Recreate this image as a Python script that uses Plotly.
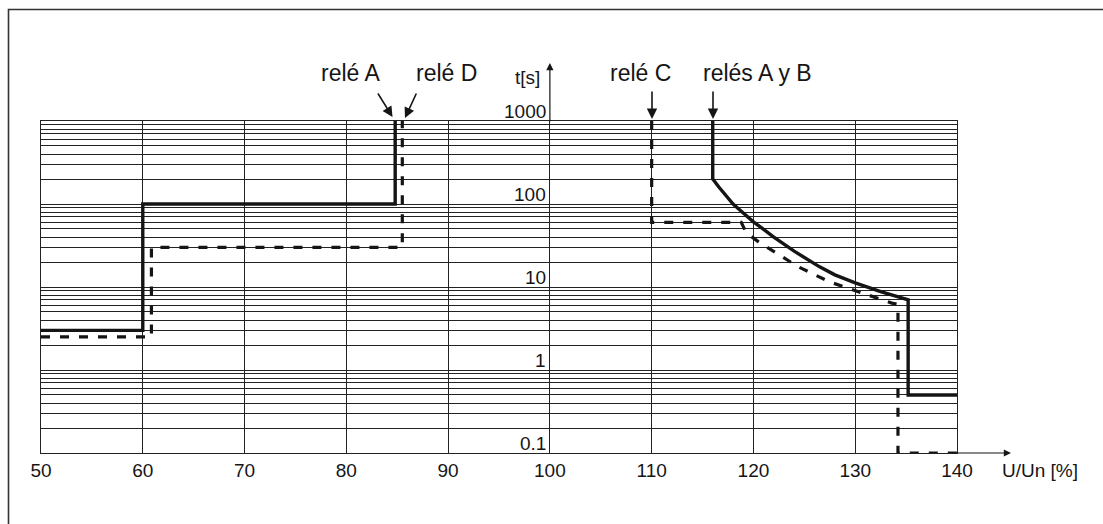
import math
import plotly.graph_objects as go

# ---------------- data ----------------
x_ticks = [50, 60, 70, 80, 90, 100, 110, 120, 130, 140]
y_tick_values = [1000, 100, 10, 1, 0.1]
y_tick_labels = ["1000", "100", "10", "1", "0.1"]

# undervoltage, relay A (solid)
under_A_u = [50, 60, 60, 84.8, 84.8]
under_A_t = [3, 3, 100, 100, 1000]
# undervoltage, relay D (dashed)
under_D_u = [50, 60.85, 60.85, 85.5, 85.5]
under_D_t = [2.5, 2.5, 30, 30, 1000]
# overvoltage, relays A and B (solid)
over_AB_u = [116, 116, 116.6, 117.3, 118, 119, 120, 122, 124, 126.5, 128, 130, 132.5, 135.2, 135.2, 140]
over_AB_t = [1000, 200, 160, 125, 100, 78, 61, 40, 27, 17.5, 14, 11.2, 8.8, 7, 0.5, 0.5]
# overvoltage, relay C (dashed)
over_C_u = [110, 110, 118.8, 119.3, 120.5, 122.8, 124.4, 127.5, 129.8, 131.8, 133.6, 134.2, 134.2, 140]
over_C_t = [1000, 60, 60, 45, 35, 23.5, 17.5, 11.5, 9.2, 7.6, 6.4, 6.2, 0.1, 0.1]

labels_top = ["relé A", "relé D", "relé C", "relés A y B"]

# ---------------- layout geometry ----------------
W, H = 1103, 524
ML, MR, MT, MB = 41, 146, 121, 71
PW, PH = W - ML - MR, H - MT - MB


def px(xp):
    return (xp - ML) / PW


def py(yp):
    return (H - MB - yp) / PH


FONT = "Liberation Sans, Arial, Helvetica, sans-serif"
INK = "#151515"
GRID = "#222222"

fig = go.Figure()

solid = dict(color=INK, width=3.4)
dashed = dict(color=INK, width=3.2, dash="9px,10px")

fig.add_trace(go.Scatter(x=under_A_u, y=under_A_t, mode="lines", line=solid,
                         name="relé A", cliponaxis=False, hoverinfo="skip"))
fig.add_trace(go.Scatter(x=under_D_u, y=under_D_t, mode="lines", line=dashed,
                         name="relé D", cliponaxis=False, hoverinfo="skip"))
fig.add_trace(go.Scatter(x=over_AB_u, y=over_AB_t, mode="lines", line=solid,
                         name="relés A y B", cliponaxis=False, hoverinfo="skip"))
fig.add_trace(go.Scatter(x=over_C_u, y=over_C_t, mode="lines", line=dashed,
                         name="relé C", cliponaxis=False, hoverinfo="skip"))

grid_vals = [m * 10 ** e for e in range(-1, 3) for m in range(1, 10)] + [1000]

annotations = []
# y tick labels, placed just left of the U=100 axis, above each decade line
for v, lab in zip(y_tick_values, y_tick_labels):
    annotations.append(dict(x=100, y=math.log10(v), xref="x", yref="y", text=lab,
                            showarrow=False, xanchor="right", yanchor="middle",
                            xshift=-2, yshift=10,
                            font=dict(family=FONT, size=19, color=INK)))

# axis arrows
annotations.append(dict(x=px(1011), y=0, xref="paper", yref="paper", ax=-60, ay=0,
                        text="", showarrow=True, arrowhead=2, arrowsize=1.2,
                        arrowwidth=1.2, arrowcolor=INK, standoff=0))
annotations.append(dict(x=100, y=py(63), xref="x", yref="paper", ax=0, ay=60,
                        text="", showarrow=True, arrowhead=2, arrowsize=1.2,
                        arrowwidth=1.2, arrowcolor=INK, standoff=0))
annotations.append(dict(x=px(527), y=py(78), xref="paper", yref="paper", text="t[s]",
                        showarrow=False, xanchor="center", yanchor="middle",
                        font=dict(family=FONT, size=19, color=INK)))
annotations.append(dict(x=px(1040), y=py(470), xref="paper", yref="paper", text="U/Un [%]",
                        showarrow=False, xanchor="center", yanchor="middle",
                        font=dict(family=FONT, size=19, color=INK)))

# top labels with arrows
label_pos = [(350, 73), (446, 73), (640, 73), (757, 73)]
arrows = [((392.5, 117), (377, 92)), ((405, 118), (417, 92)),
          ((652, 119), (652, 90)), ((713, 119), (713, 90))]
for lab, (lx, ly) in zip(labels_top, label_pos):
    annotations.append(dict(x=px(lx), y=py(ly), xref="paper", yref="paper", text=lab,
                            showarrow=False, xanchor="center", yanchor="middle",
                            font=dict(family=FONT, size=23, color=INK)))
for (tip, tail) in arrows:
    annotations.append(dict(x=px(tip[0]), y=py(tip[1]), xref="paper", yref="paper",
                            ax=tail[0] - tip[0], ay=tail[1] - tip[1], text="",
                            showarrow=True, arrowhead=2, arrowsize=1.3, arrowwidth=1.6,
                            arrowcolor=INK, standoff=0))

shapes = [dict(type="rect", xref="paper", yref="paper",
               x0=px(8.5), x1=px(1130), y0=py(9.5), y1=py(560),
               line=dict(color="#333333", width=1.6), fillcolor="rgba(0,0,0,0)",
               layer="below")]

fig.update_layout(
    width=W, height=H,
    margin=dict(l=ML, r=MR, t=MT, b=MB, pad=0),
    paper_bgcolor="white", plot_bgcolor="white",
    showlegend=False,
    annotations=annotations,
    shapes=shapes,
    xaxis=dict(range=[50, 140], tickvals=x_ticks, ticktext=[str(v) for v in x_ticks],
               showgrid=True, gridcolor=GRID, gridwidth=1, zeroline=False,
               showline=True, mirror=True, linecolor=GRID, linewidth=1,
               ticks="", tickfont=dict(family=FONT, size=19, color=INK)),
    yaxis=dict(type="log", range=[-1, 3], tickvals=grid_vals, showticklabels=False,
               showgrid=True, gridcolor=GRID, gridwidth=1, zeroline=False,
               showline=True, mirror=True, linecolor=GRID, linewidth=1, ticks=""),
)

fig.write_html("out.html", config={"displayModeBar": False},
               post_script="document.body.style.margin='0px';")
